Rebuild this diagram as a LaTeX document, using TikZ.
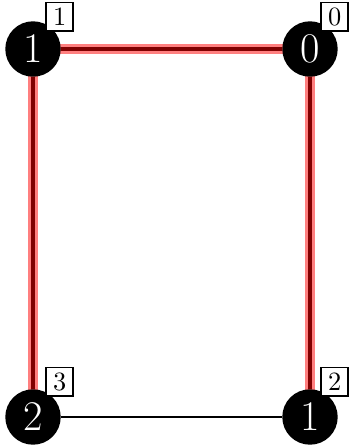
\documentclass[tikz,border=0pt]{standalone}
\usepackage{tikz}
\usetikzlibrary{positioning,backgrounds}

\begin{document}
\begin{tikzpicture}[
  x=0.3788pt, y=-0.3788pt,
  vert/.style={circle, fill=black, text=white, inner sep=0pt,
               minimum size=21pt, font=\fontsize{16}{18}\selectfont},
  tag/.style={draw, line width=0.7pt, fill=white, inner sep=0pt,
              minimum width=10.4pt, minimum height=10.8pt, anchor=south west},
  edge/.style={line width=0.76pt},
  hedge/.style={line width=1.5pt},
  hl/.style={line width=3.8pt, red, opacity=0.5}]

\useasboundingbox (0,0) rectangle (349,445);

% vertices
\node[vert] (n1) at (33,49) {1};
\node[vert] (n0) at (310,49) {0};
\node[vert] (n3) at (33,417) {2};
\node[vert] (n2) at (310,417) {1};

% index tags
\node[tag] (t1) at ([shift={(12,-17)}]n1.center) {1};
\node[tag] (t0) at ([shift={(10,-17)}]n0.center) {0};
\node[tag] (t3) at ([shift={(12,-20)}]n3.center) {3};
\node[tag] (t2) at ([shift={(10,-20)}]n2.center) {2};

% edges (behind the vertices)
\begin{scope}[on background layer]
  \draw[edge] (n3) -- (n2);
  \draw[hedge] (n1) -- (n0);
  \draw[hedge] (n1) -- (n3);
  \draw[hedge] (n0) -- (n2);
  \draw[hl] (n1.center) -- (n0.center);
  \draw[hl] (n1.center) -- (n3.center);
  \draw[hl] (n0.center) -- (n2.center);
\end{scope}
\end{tikzpicture}
\end{document}
